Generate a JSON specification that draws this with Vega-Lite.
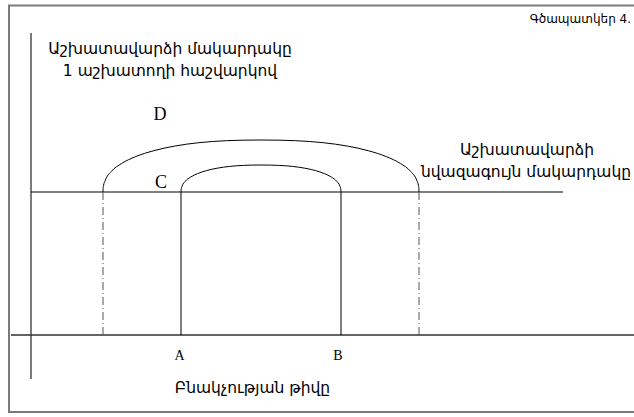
{
  "$schema": "https://vega.github.io/schema/vega-lite/v6.json",
  "width": 634,
  "height": 417,
  "autosize": "none",
  "padding": 0,
  "background": "white",
  "config": {"view": {"stroke": "transparent", "strokeWidth": 0}},
  "datasets": {
    "frame": [
      {"name": "frame", "x": -22, "x2": 612, "y": -77, "y2": 329.5}
    ],
    "frameV": [
      {"name": "y axis", "x": 0, "y": 302, "y2": -44}
    ],
    "xaxis": [
      {"name": "x axis", "y": 0, "x": -20, "x2": 603}
    ],
    "solidH": [
      {"name": "minimum wage", "y": 143, "x": 0, "x2": 532}
    ],
    "solidV": [
      {"name": "A", "x": 150, "y": 0, "y2": 143},
      {"name": "B", "x": 310, "y": 0, "y2": 143}
    ],
    "dashdot": [
      {"name": "left limit", "x": 72, "y": 0, "y2": 143},
      {"name": "right limit", "x": 388, "y": 0, "y2": 143}
    ],
    "arcs": [
      {"arc": "D", "i": 0, "x": 72, "y": 143},
      {"arc": "D", "i": 1, "x": 72.1, "y": 146.4},
      {"arc": "D", "i": 2, "x": 72.5, "y": 149.2},
      {"arc": "D", "i": 3, "x": 74.1, "y": 154.3},
      {"arc": "D", "i": 4, "x": 80.3, "y": 163.5},
      {"arc": "D", "i": 5, "x": 90.6, "y": 171.5},
      {"arc": "D", "i": 6, "x": 104.7, "y": 178.4},
      {"arc": "D", "i": 7, "x": 122.4, "y": 184.2},
      {"arc": "D", "i": 8, "x": 143.5, "y": 188.9},
      {"arc": "D", "i": 9, "x": 167.8, "y": 192.3},
      {"arc": "D", "i": 10, "x": 195.5, "y": 194.3},
      {"arc": "D", "i": 11, "x": 211.1, "y": 194.8},
      {"arc": "D", "i": 12, "x": 230, "y": 195},
      {"arc": "D", "i": 13, "x": 248.9, "y": 194.8},
      {"arc": "D", "i": 14, "x": 264.5, "y": 194.3},
      {"arc": "D", "i": 15, "x": 292.2, "y": 192.3},
      {"arc": "D", "i": 16, "x": 316.5, "y": 188.9},
      {"arc": "D", "i": 17, "x": 337.6, "y": 184.2},
      {"arc": "D", "i": 18, "x": 355.3, "y": 178.4},
      {"arc": "D", "i": 19, "x": 369.4, "y": 171.5},
      {"arc": "D", "i": 20, "x": 379.7, "y": 163.5},
      {"arc": "D", "i": 21, "x": 385.9, "y": 154.3},
      {"arc": "D", "i": 22, "x": 387.5, "y": 149.2},
      {"arc": "D", "i": 23, "x": 387.9, "y": 146.4},
      {"arc": "D", "i": 24, "x": 388, "y": 143},
      {"arc": "C", "i": 0, "x": 150, "y": 143},
      {"arc": "C", "i": 1, "x": 150.1, "y": 144.8},
      {"arc": "C", "i": 2, "x": 150.3, "y": 146.2},
      {"arc": "C", "i": 3, "x": 151.1, "y": 148.9},
      {"arc": "C", "i": 4, "x": 154.2, "y": 153.6},
      {"arc": "C", "i": 5, "x": 159.4, "y": 157.8},
      {"arc": "C", "i": 6, "x": 166.6, "y": 161.4},
      {"arc": "C", "i": 7, "x": 175.5, "y": 164.4},
      {"arc": "C", "i": 8, "x": 186.2, "y": 166.8},
      {"arc": "C", "i": 9, "x": 198.5, "y": 168.6},
      {"arc": "C", "i": 10, "x": 212.5, "y": 169.6},
      {"arc": "C", "i": 11, "x": 220.4, "y": 169.9},
      {"arc": "C", "i": 12, "x": 230, "y": 170},
      {"arc": "C", "i": 13, "x": 239.6, "y": 169.9},
      {"arc": "C", "i": 14, "x": 247.5, "y": 169.6},
      {"arc": "C", "i": 15, "x": 261.5, "y": 168.6},
      {"arc": "C", "i": 16, "x": 273.8, "y": 166.8},
      {"arc": "C", "i": 17, "x": 284.5, "y": 164.4},
      {"arc": "C", "i": 18, "x": 293.4, "y": 161.4},
      {"arc": "C", "i": 19, "x": 300.6, "y": 157.8},
      {"arc": "C", "i": 20, "x": 305.8, "y": 153.6},
      {"arc": "C", "i": 21, "x": 308.9, "y": 148.9},
      {"arc": "C", "i": 22, "x": 309.7, "y": 146.2},
      {"arc": "C", "i": 23, "x": 309.9, "y": 144.8},
      {"arc": "C", "i": 24, "x": 310, "y": 143}
    ],
    "sansLabels": [
      {"text": "Աշխատավարձի մակարդակը", "x": 139, "y": 286},
      {"text": "1 աշխատողի հաշվարկով", "x": 139, "y": 264},
      {"text": "Աշխատավարձի", "x": 496, "y": 185},
      {"text": "նվազագույն մակարդակը", "x": 495, "y": 163},
      {"text": "Բնակչության թիվը", "x": 221.5, "y": -53}
    ],
    "title": [
      {"text": "Գծապատկեր 4.", "x": 600, "y": 316}
    ],
    "bigLetters": [
      {"text": "D", "x": 129, "y": 220},
      {"text": "C", "x": 130, "y": 152}
    ],
    "letters": [
      {"text": "A", "x": 148.5, "y": -21},
      {"text": "B", "x": 307, "y": -21}
    ]
  },
  "encoding": {
    "x": {"type": "quantitative", "scale": {"domain": [-31, 603], "nice": false, "zero": false}, "axis": null},
    "y": {"type": "quantitative", "scale": {"domain": [-82, 335], "nice": false, "zero": false}, "axis": null}
  },
  "layer": [
    {
      "data": {"name": "frame"},
      "mark": {"type": "rect", "filled": false, "stroke": "#7a7a7a", "strokeWidth": 2},
      "encoding": {
        "x": {"field": "x", "type": "quantitative"},
        "x2": {"field": "x2"},
        "y": {"field": "y", "type": "quantitative"},
        "y2": {"field": "y2"}
      }
    },
    {
      "data": {"name": "frameV"},
      "mark": {"type": "rule", "color": "#7a7a7a", "strokeWidth": 2},
      "encoding": {
        "x": {"field": "x", "type": "quantitative"},
        "y": {"field": "y", "type": "quantitative"},
        "y2": {"field": "y2"}
      }
    },
    {
      "data": {"name": "xaxis"},
      "mark": {"type": "rule", "color": "#303030", "strokeWidth": 1.5},
      "encoding": {
        "y": {"field": "y", "type": "quantitative"},
        "x": {"field": "x", "type": "quantitative"},
        "x2": {"field": "x2"}
      }
    },
    {
      "data": {"name": "solidH"},
      "mark": {"type": "rule", "color": "#000000", "strokeWidth": 1},
      "encoding": {
        "y": {"field": "y", "type": "quantitative"},
        "x": {"field": "x", "type": "quantitative"},
        "x2": {"field": "x2"}
      }
    },
    {
      "data": {"name": "solidV"},
      "mark": {"type": "rule", "color": "#000000", "strokeWidth": 1},
      "encoding": {
        "x": {"field": "x", "type": "quantitative"},
        "y": {"field": "y", "type": "quantitative"},
        "y2": {"field": "y2"}
      }
    },
    {
      "data": {"name": "dashdot"},
      "mark": {"type": "rule", "color": "#555555", "strokeWidth": 1, "strokeDash": [8, 3, 1, 3]},
      "encoding": {
        "x": {"field": "x", "type": "quantitative"},
        "y": {"field": "y", "type": "quantitative"},
        "y2": {"field": "y2"}
      }
    },
    {
      "data": {"name": "arcs"},
      "mark": {"type": "line", "color": "#000000", "strokeWidth": 1, "interpolate": "monotone"},
      "encoding": {
        "x": {"field": "x", "type": "quantitative"},
        "y": {"field": "y", "type": "quantitative"},
        "detail": {"field": "arc"},
        "order": {"field": "i", "type": "quantitative"}
      }
    },
    {
      "data": {"name": "sansLabels"},
      "mark": {"type": "text", "font": "DejaVu Sans", "fontSize": 15.5, "align": "center", "baseline": "middle", "color": "#000000"},
      "encoding": {
        "x": {"field": "x", "type": "quantitative"},
        "y": {"field": "y", "type": "quantitative"},
        "text": {"field": "text"}
      }
    },
    {
      "data": {"name": "title"},
      "mark": {"type": "text", "font": "DejaVu Sans", "fontSize": 12, "align": "right", "baseline": "middle", "color": "#000000"},
      "encoding": {
        "x": {"field": "x", "type": "quantitative"},
        "y": {"field": "y", "type": "quantitative"},
        "text": {"field": "text"}
      }
    },
    {
      "data": {"name": "bigLetters"},
      "mark": {"type": "text", "font": "Liberation Serif", "fontSize": 18, "align": "center", "baseline": "middle", "color": "#000000"},
      "encoding": {
        "x": {"field": "x", "type": "quantitative"},
        "y": {"field": "y", "type": "quantitative"},
        "text": {"field": "text"}
      }
    },
    {
      "data": {"name": "letters"},
      "mark": {"type": "text", "font": "Liberation Serif", "fontSize": 14, "align": "center", "baseline": "middle", "color": "#000000"},
      "encoding": {
        "x": {"field": "x", "type": "quantitative"},
        "y": {"field": "y", "type": "quantitative"},
        "text": {"field": "text"}
      }
    }
  ]
}
